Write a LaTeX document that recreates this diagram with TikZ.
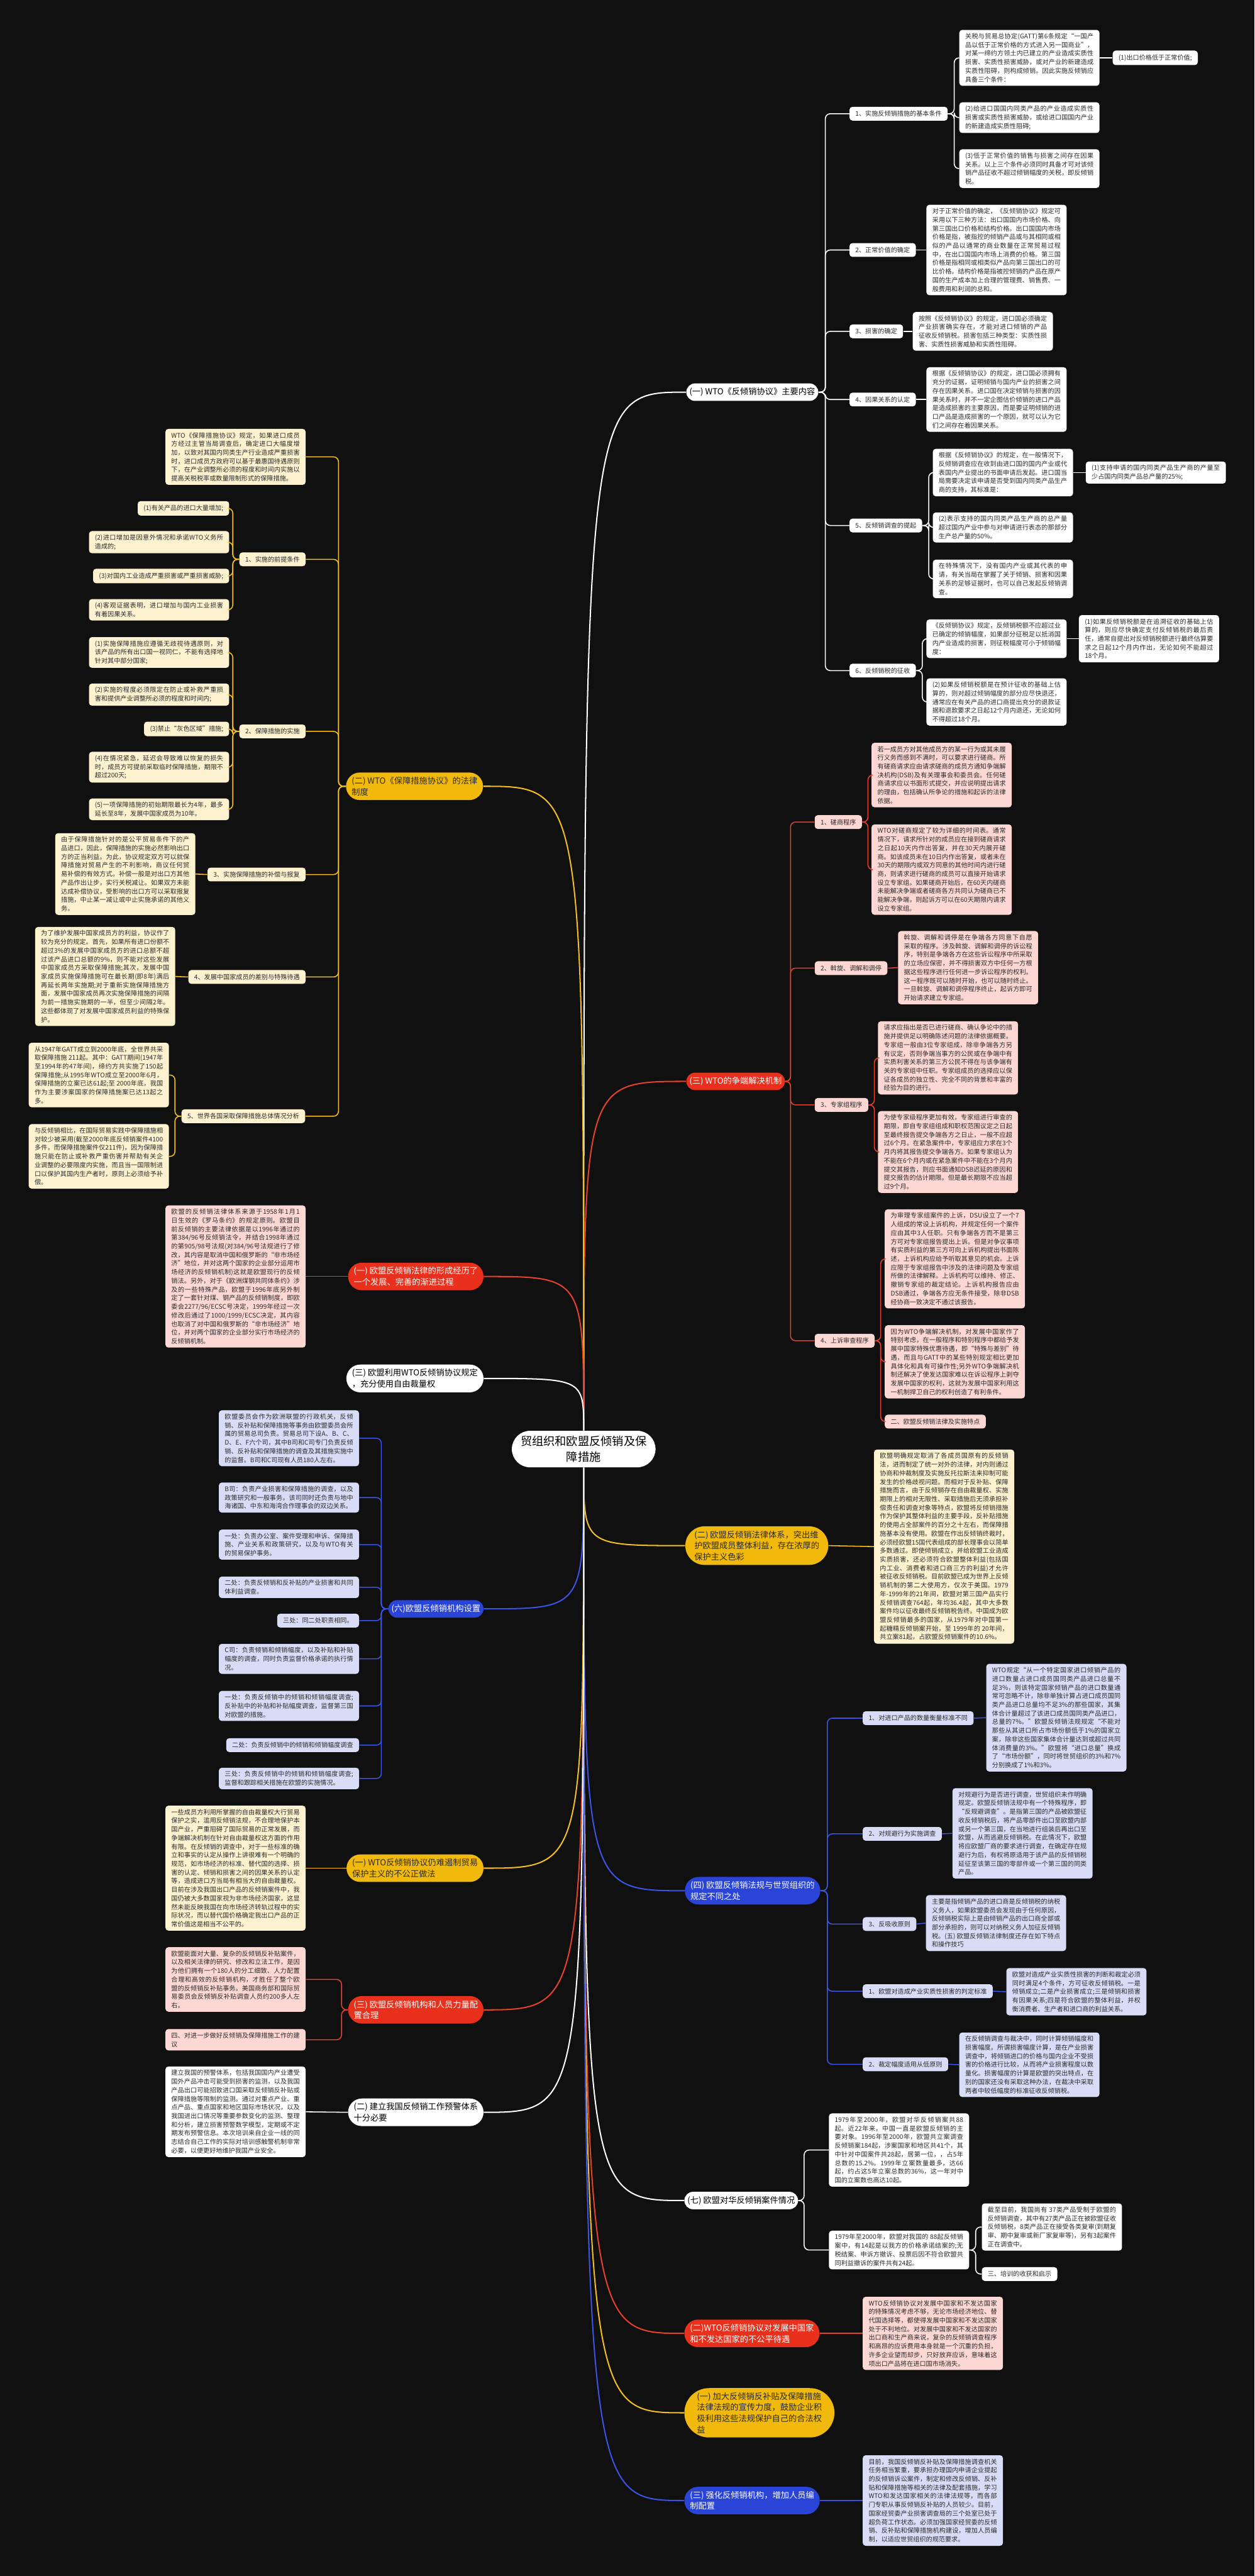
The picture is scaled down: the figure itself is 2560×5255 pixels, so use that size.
\documentclass[tikz,border=0pt]{standalone}
\usepackage{fontspec}
\newfontfamily\zhfont{Noto Sans CJK SC}
\XeTeXlinebreaklocale "zh"
\XeTeXlinebreakskip=0pt plus 0.5pt
\usetikzlibrary{shapes.misc}

\definecolor{bgc}{HTML}{101010}
\definecolor{txt}{HTML}{2B2B2B}
\definecolor{ylw}{HTML}{F2BE22}
\definecolor{ynode}{HTML}{F0B90B}
\definecolor{ybox}{HTML}{FDF2CF}
\definecolor{red}{HTML}{E5412D}
\definecolor{rnode}{HTML}{E8301C}
\definecolor{rbox}{HTML}{FCD7D3}
\definecolor{blu}{HTML}{3A55E6}
\definecolor{bnode}{HTML}{2A44D8}
\definecolor{bbox}{HTML}{D9DCF7}

\newcommand\boxfont{\zhfont\fontsize{6.5}{8.8}\selectfont}
\newcommand\topicfont{\zhfont\fontsize{8.5}{11.25}\selectfont}
\newcommand\rootfont{\zhfont\fontsize{11.7}{16.5}\selectfont}

\tikzset{
  root/.style={rounded rectangle, fill=white, text=black, font=\rootfont, align=center, inner xsep=3pt, inner ysep=5pt},
  topic/.style={rounded rectangle, font=\topicfont, align=left, inner xsep=2pt, inner ysep=4.5pt},
  wtopic/.style={topic, fill=white, text=black},
  ytopic/.style={topic, fill=ynode, text=txt},
  rtopic/.style={topic, fill=rnode, text=white},
  btopic/.style={topic, fill=bnode, text=white},
  box/.style={rounded corners=3pt, font=\boxfont, text=txt, inner xsep=6pt, inner ysep=4pt},
  para/.style={box, text width=131pt, align=justify, inner ysep=3.5pt},
  wl/.style={box, fill=white}, yl/.style={box, fill=ybox},
  rl/.style={box, fill=rbox}, bl/.style={box, fill=bbox},
  wp/.style={para, fill=white}, yp/.style={para, fill=ybox},
  rp/.style={para, fill=rbox}, bp/.style={para, fill=bbox},
  curve/.style={line width=1.3pt},
  conn/.style={line width=1pt, rounded corners=5pt}
}

\begin{document}
\begin{tikzpicture}[x=0.5pt,y=-0.5pt]
\fill[bgc] (0,0) rectangle (2560,5255);
\useasboundingbox (0,0) rectangle (2560,5255);

% centre
\node[root] (ctr) at (1191,2956) {贸组织和欧盟反倾销及保\\障措施};

% right topics
\node[wtopic, anchor=west] (B1) at (1400,800) {(一) WTO《反倾销协议》主要内容};
\node[rtopic, anchor=west] (B3) at (1400,2206) {(三) WTO的争端解决机制};
\node[ytopic, anchor=west] (B2e) at (1398,3153) {(二) 欧盟反倾销法律体系，突出维\\护欧盟成员整体利益，存在浓厚的\\保护主义色彩};
\node[btopic, anchor=west] (B4) at (1397,3857) {(四) 欧盟反倾销法规与世贸组织的\\规定不同之处};
\node[wtopic, anchor=west] (B7) at (1396,4489) {(七) 欧盟对华反倾销案件情况};
\node[rtopic, anchor=west] (B2w) at (1396,4760) {(二)WTO反倾销协议对发展中国家\\和不发达国家的不公平待遇};
\node[ytopic, anchor=west] (B1j) at (1396,4922) {(一) 加大反倾销反补贴及保障措施\\法律法规的宣传力度，鼓励企业积\\极利用这些法规保护自己的合法权\\益};
\node[btopic, anchor=west] (B3q) at (1396,5101) {(三) 强化反倾销机构，增加人员编\\制配置};

% left topics
\node[ytopic, anchor=east] (L2) at (986,1604) {(二) WTO《保障措施协议》的法律\\制度};
\node[rtopic, anchor=east] (L1) at (987,2604) {(一) 欧盟反倾销法律的形成经历了\\一个发展、完善的渐进过程};
\node[wtopic, anchor=east] (L3) at (987,2812) {(三) 欧盟利用WTO反倾销协议规定\\，充分使用自由裁量权};
\node[btopic, anchor=east] (L6) at (987,3282) {(六)欧盟反倾销机构设置};
\node[ytopic, anchor=east] (L1w) at (987,3811) {(一) WTO反倾销协议仍难遏制贸易\\保护主义的不公正做法};
\node[rtopic, anchor=east] (L3o) at (987,4100) {(三) 欧盟反倾销机构和人员力量配\\置合理};
\node[wtopic, anchor=east] (L2j) at (987,4309) {(二) 建立我国反倾销工作预警体系\\十分必要};

% (一) WTO反倾销协议
\node[wl, anchor=west] (a1) at (1733,232) {1、实施反倾销措施的基本条件};
\node[wp, anchor=west] (a1p1) at (1957,118) {关税与贸易总协定(GATT)第6条规定“一国产品以低于正常价格的方式进入另一国商业”，对某一缔约方领土内已建立的产业造成实质性损害、实质性损害威胁，或对产业的新建造成实质性阻碍，则构成倾销。因此实施反倾销应具备三个条件：};
\node[wl, anchor=west] (a1p1c) at (2270,118) {(1)出口价格低于正常价值;};
\node[wp, anchor=west] (a1p2) at (1957,240) {(2)给进口国国内同类产品的产业造成实质性损害或实质性损害威胁，或给进口国国内产业的新建造成实质性阻碍;};
\node[wp, anchor=west] (a1p3) at (1957,344) {(3)低于正常价值的销售与损害之间存在因果关系。以上三个条件必须同时具备才可对该倾销产品征收不超过倾销幅度的关税，即反倾销税。};
\node[wl, anchor=west] (a2) at (1733,510) {2、正常价值的确定};
\node[wp, anchor=west] (a2p) at (1890,510) {对于正常价值的确定，《反倾销协议》规定可采用以下三种方法：出口国国内市场价格、向第三国出口价格和结构价格。出口国国内市场价格是指，被指控的倾销产品或与其相同或相似的产品以通常的商业数量在正常贸易过程中，在出口国国内市场上消费的价格。第三国价格是指相同或相类似产品向第三国出口的可比价格。结构价格是指被控倾销的产品在原产国的生产成本加上合理的管理费、销售费、一般费用和利润的总和。};
\node[wl, anchor=west] (a3) at (1733,676) {3、损害的确定};
\node[wp, anchor=west] (a3p) at (1862,676) {按照《反倾销协议》的规定，进口国必须确定产业损害确实存在，才能对进口倾销的产品征收反倾销税。损害包括三种类型：实质性损害、实质性损害威胁和实质性阻碍。};
\node[wl, anchor=west] (a4) at (1733,815) {4、因果关系的认定};
\node[wp, anchor=west] (a4p) at (1890,815) {根据《反倾销协议》的规定，进口国必须拥有充分的证据，证明倾销与国内产业的损害之间存在因果关系。进口国在决定倾销与损害的因果关系时，并不一定企图估价倾销的进口产品是造成损害的主要原因，而是要证明倾销的进口产品是造成损害的一个原因，就可以认为它们之间存在着因果关系。};
\node[wl, anchor=west] (a5) at (1733,1072) {5、反倾销调查的提起};
\node[wp, anchor=west] (a5p1) at (1903,964) {根据《反倾销协议》的规定，在一般情况下，反倾销调查应在收到由进口国的国内产业或代表国内产业提出的书面申请后发起。进口国当局需要决定该申请是否受到国内同类产品生产商的支持，其标准是：};
\node[wp, anchor=west] (a5p1c) at (2215,964) {(1)支持申请的国内同类产品生产商的产量至少占国内同类产品总产量的25\%;};
\node[wp, anchor=west] (a5p2) at (1903,1076) {(2)表示支持的国内同类产品生产商的总产量超过国内产业中参与对申请进行表态的那部分生产总产量的50\%。};
\node[wp, anchor=west] (a5p3) at (1903,1181) {在特殊情况下，没有国内产业或其代表的申请，有关当局在掌握了关于倾销、损害和因果关系的足够证据时，也可以自己发起反倾销调查。};
\node[wl, anchor=west] (a6) at (1733,1368) {6、反倾销税的征收};
\node[wp, anchor=west] (a6p1) at (1890,1303) {《反倾销协议》规定，反倾销税额不应超过业已确定的倾销幅度，如果部分征税足以抵消国内产业造成的损害，则征税幅度可小于倾销幅度：};
\node[wp, anchor=west] (a6p1c) at (2201,1303) {(1)如果反倾销税额是在追溯征收的基础上估算的，则应尽快确定支付反倾销税的最后责任，通常自提出对反倾销税额进行最终估算要求之日起12个月内作出，无论如何不能超过18个月。};
\node[wp, anchor=west] (a6p2) at (1890,1432) {(2)如果反倾销税额是在预计征收的基础上估算的，则对超过倾销幅度的部分应尽快退还，通常应在有关产品的进口商提出充分的退款证据和退款要求之日起12个月内退还，无论如何不得超过18个月。};

% (三) 争端解决机制
\node[rl, anchor=west] (d1) at (1662,1677) {1、磋商程序};
\node[rp, anchor=west] (d1p1) at (1778,1581) {若一成员方对其他成员方的某一行为或其未履行义务而感到不满时，可以要求进行磋商。所有磋商请求应由请求磋商的成员方通知争端解决机构(DSB)及有关理事会和委员会。任何磋商请求应以书面形式提交，并应说明提出请求的理由，包括确认所争论的措施和起诉的法律依据。};
\node[rp, anchor=west] (d1p2) at (1778,1774) {WTO对磋商规定了较为详细的时间表。通常情况下，请求所针对的成员应在接到磋商请求之日起10天内作出答复，并在30天内展开磋商。如该成员未在10日内作出答复，或者未在30天的期限内或双方同意的其他时间内进行磋商，则请求进行磋商的成员可以直接开始请求设立专家组。如果磋商开始后，在60天内磋商未能解决争端或者磋商各方共同认为磋商已不能解决争端，则起诉方可以在60天期限内请求设立专家组。};
\node[rl, anchor=west] (d2) at (1662,1975) {2、斡旋、调解和调停};
\node[rp, anchor=west] (d2p) at (1832,1974) {斡旋、调解和调停是在争端各方同意下自愿采取的程序。涉及斡旋、调解和调停的诉讼程序，特别是争端各方在这些诉讼程序中所采取的立场应保密，并不得损害双方中任何一方根据这些程序进行任何进一步诉讼程序的权利。这一程序既可以随时开始，也可以随时终止。一旦斡旋、调解和调停程序终止，起诉方即可开始请求建立专家组。};
\node[rl, anchor=west] (d3) at (1662,2254) {3、专家组程序};
\node[rp, anchor=west] (d3p1) at (1791,2158) {请求应指出是否已进行磋商、确认争论中的措施并提供足以明确陈述问题的法律依据概要。专家组一般由3位专家组成，除非争端各方另有议定，否则争端当事方的公民或在争端中有实质利害关系的第三方公民不得在与该争端有关的专家组中任职。专家组成员的选择应以保证各成员的独立性、完全不同的背景和丰富的经验为目的进行。};
\node[rp, anchor=west] (d3p2) at (1791,2350) {为使专家级程序更加有效，专家组进行审查的期限，即自专家组组成和职权范围议定之日起至最终报告提交争端各方之日止，一般不应超过6个月。在紧急案件中，专家组应力求在3个月内将其报告提交争端各方。如果专家组认为不能在6个月内或在紧急案件中不能在3个月内提交其报告，则应书面通知DSB迟延的原因和提交报告的估计期限。但是最长期限不应当超过9个月。};
\node[rl, anchor=west] (d4) at (1662,2735) {4、上诉审查程序};
\node[rp, anchor=west] (d4p1) at (1805,2568) {为审理专家组案件的上诉，DSU设立了一个7人组成的常设上诉机构，并规定任何一个案件应由其中3人任职。只有争端各方而不是第三方可对专家组报告提出上诉。但是对争议事项有实质利益的第三方可向上诉机构提出书面陈述，上诉机构应给予听取其意见的机会。上诉应限于专家组报告中涉及的法律问题及专家组所做的法律解释。上诉机构可以维持、修正、撤销专家组的裁定结论。上诉机构报告应由DSB通过，争端各方应无条件接受，除非DSB经协商一致决定不通过该报告。};
\node[rp, anchor=west] (d4p2) at (1805,2778) {因为WTO争端解决机制，对发展中国家作了特别考虑，在一般程序和特别程序中都给予发展中国家特殊优惠待遇，即“特殊与差别”待遇，而且与GATT中的某些特别规定相比更加具体化和具有可操作性;另外WTO争端解决机制还解决了使发达国家难以在诉讼程序上剥夺发展中国家的权利，这就为发展中国家利用这一机制捍卫自己的权利创造了有利条件。};
\node[rl, anchor=west] (d4p3) at (1805,2900) {二、欧盟反倾销法律及实施特点};

% (二) 欧盟反倾销法律体系
\node[yp, anchor=west] (e1p) at (1783,3155) {欧盟明确规定取消了各成员国原有的反倾销法，进而制定了统一对外的法律，对内则通过协商和仲裁制度及实施反托拉斯法来抑制可能发生的价格歧视问题。而相对于反补贴、保障措施而言，由于反倾销存在自由裁量权、实施期限上的相对无限性、采取措施后无须承担补偿责任和调查对象等特点，欧盟将反倾销措施作为保护其整体利益的主要手段，反补贴措施的使用占全部案件的百分之十左右，而保障措施基本没有使用。欧盟在作出反倾销终裁时，必须经欧盟15国代表组成的部长理事会以简单多数通过。即使倾销成立，并给欧盟工业造成实质损害，还必须符合欧盟整体利益(包括国内工业、消费者和进口商三方的利益)才允许被征收反倾销税。目前欧盟已成为世界上反倾销机制的第二大使用方，仅次于美国。1979年-1999年的21年间，欧盟对第三国产品实行反倾销调查764起，年均36.4起，其中大多数案件均以征收最终反倾销税告终。中国成为欧盟反倾销最多的国家，从1979年对中国第一起糖精反倾销案开始，至 1999年的 20年间，共立案81起，占欧盟反倾销案件的10.6\%。};

% (四) 不同之处
\node[bl, anchor=west] (f1) at (1760,3505) {1、对进口产品的数量衡量标准不同};
\node[bp, anchor=west] (f1p) at (2012,3504) {WTO规定“从一个特定国家进口倾销产品的进口数量占进口成员国同类产品进口总量不足3\%，则该特定国家倾销产品的进口数量通常可忽略不计，除非单独计算占进口成员国同类产品进口总量均不足3\%的那些国家，其集体合计量超过了该进口成员国同类产品进口，总量的7\%。”欧盟反倾销法规规定“不能对那些从其进口所占市场份额低于1\%的国家立案，除非这些国家集体合计量达到或超过共同体消费量的3\%。”欧盟将“进口总量”换成了“市场份额”，同时将世贸组织的3\%和7\%分别换成了1\%和3\%。};
\node[bl, anchor=west] (f2) at (1760,3741) {2、对规避行为实施调查};
\node[bp, anchor=west] (f2p) at (1943,3740) {对规避行为是否进行调查，世贸组织未作明确规定。欧盟反倾销法规中有一个特殊程序，即“反规避调查”。是指第三国的产品被欧盟征收反倾销税后，将产品零部件出口至欧盟内部或另一个第三国，在当地进行组装后再出口至欧盟，从而逃避反倾销税。在此情况下，欧盟将应欧盟厂商的要求进行调查，在确定存在规避行为后，有权将原适用于该产品的反倾销税延征至该第三国的零部件或一个第三国的同类产品。};
\node[bl, anchor=west] (f3) at (1760,3925) {3、反吸收原则};
\node[bp, anchor=west] (f3p) at (1889,3923) {主要是指倾销产品的进口商是反倾销税的纳税义务人，如果欧盟委员会发现由于任何原因，反倾销税实际上是由倾销产品的出口商全部或部分承担的，则可以对纳税义务人加征反倾销税。(五) 欧盟反倾销法律制度还存在如下特点和操作技巧};
\node[bl, anchor=west] (f4) at (1760,4062) {1、欧盟对造成产业实质性损害的判定标准};
\node[bp, anchor=west] (f4p) at (2053,4063) {欧盟对造成产业实质性损害的判断和裁定必须同时满足4个条件，方可征收反倾销税。一是倾销成立;二是产业损害成立;三是倾销和损害有因果关系;四是符合欧盟的整体利益，并权衡消费者、生产者和进口商的利益关系。};
\node[bl, anchor=west] (f5) at (1760,4211) {2、裁定幅度适用从低原则};
\node[bp, anchor=west] (f5p) at (1957,4212) {在反倾销调查与裁决中，同时计算倾销幅度和损害幅度。所谓损害幅度计算，是在产业损害调查中，将倾销进口的价格与国内企业不受损害的价格进行比较，从而将产业损害程度以数量化。损害幅度的计算是欧盟的突出特点，在别的国家还没有采取这种办法，在裁决中采取两者中较低幅度的标准征收反倾销税。};

% (七) 对华案件
\node[wp, anchor=west] (g1p) at (1691,4386) {1979年至2000年，欧盟对华反倾销案共88起。近22年来，中国一直是欧盟反倾销的主要对象。1996年至2000年，欧盟共立案调查反倾销案184起，涉案国家和地区共41个，其中针对中国案件共28起，居第一位，，占5年总数的15.2\%。1999年立案数量最多，达66起，约占这5年立案总数的36\%，这一年对中国的立案数也高达10起。};
\node[wp, anchor=west] (g2p) at (1691,4590) {1979年至2000年，欧盟对我国的 88起反倾销案中，有14起是以我方的价格承诺结案的;无税结案、申诉方撤诉、投票后因不符合欧盟共同利益撤诉的案件共有24起。};
\node[wp, anchor=west] (g2p1) at (2003,4543) {截至目前，我国尚有 37类产品受制于欧盟的反倾销调查，其中有27类产品正在被欧盟征收反倾销税，8类产品正在接受各类复审(到期复审、期中复审或新厂家复审等)，另有3起案件正在调查中。};
\node[wl, anchor=west] (g2p2) at (2003,4639) {三、培训的收获和启示};

\node[rp, anchor=west] (h1p) at (1760,4760) {WTO反倾销协议对发展中国家和不发达国家的特殊情况考虑不够，无论市场经济地位、替代国选择等，都使得发展中国家和不发达国家处于不利地位。对发展中国家和不发达国家的出口商和生产商来说，复杂的反倾销调查程序和高昂的应诉费用本身就是一个沉重的负担，许多企业望而却步，只好放弃应诉，意味着这项出口产品将在进口国市场消失。};
\node[bp, anchor=west] (k1p) at (1760,5101) {目前，我国反倾销反补贴及保障措施调查机关任务相当繁重，要承担办理国内申请企业提起的反倾销诉讼案件，制定和修改反倾销、反补贴和保障措施等相关的法律及配套措施，学习WTO和发达国家相关的法律法规等，而各部门专职从事反倾销反补贴的人员较少。目前，国家经贸委产业损害调查局的三个处室已处于超负荷工作状态。必须加强国家经贸委的反倾销、反补贴和保障措施机构建设，增加人员编制，以适应世贸组织的规范要求。};

% (二) 保障措施协议
\node[yp, anchor=east] (m0) at (624,932) {WTO《保障措施协议》规定，如果进口成员方经过主管当局调查后，确定进口大幅度增加，以致对其国内同类生产行业造成严重损害时，进口成员方政府可以基于最惠国待遇原则下，在产业调整所必须的程度和时间内实施以提高关税税率或数量限制形式的保障措施。};
\node[yl, anchor=east] (m1) at (624,1141) {1、实施的前提条件};
\node[yl, anchor=east] (m1a) at (468,1037) {(1)有关产品的进口大量增加;};
\node[yp, anchor=east] (m1b) at (468,1106) {(2)进口增加是因意外情况和承诺WTO义务所造成的;};
\node[yl, anchor=east] (m1c) at (468,1175) {(3)对国内工业造成严重损害或严重损害威胁;};
\node[yp, anchor=east] (m1d) at (468,1244) {(4)客观证据表明，进口增加与国内工业损害有着因果关系。};
\node[yl, anchor=east] (m2) at (624,1492) {2、保障措施的实施};
\node[yp, anchor=east] (m2a) at (468,1331) {(1)实施保障措施应遵循无歧视待遇原则，对该产品的所有出口国一视同仁，不能有选择地针对其中部分国家;};
\node[yp, anchor=east] (m2b) at (468,1417) {(2)实施的程度必须限定在防止或补救严重损害和提供产业调整所必须的程度和时间内;};
\node[yl, anchor=east] (m2c) at (468,1487) {(3)禁止“灰色区域”措施;};
\node[yp, anchor=east] (m2d) at (468,1565) {(4)在情况紧急，延迟会导致难以恢复的损失时，成员方可提前采取临时保障措施，期限不超过200天;};
\node[yp, anchor=east] (m2e) at (468,1651) {(5)一项保障措施的初始期限最长为4年，最多延长至8年，发展中国家成员为10年。};
\node[yl, anchor=east] (m3) at (624,1784) {3、实施保障措施的补偿与报复};
\node[yp, anchor=east] (m3p) at (399,1783) {由于保障措施针对的是公平贸易条件下的产品进口，因此，保障措施的实施必然影响出口方的正当利益。为此，协议规定双方可以就保障措施对贸易产生的不利影响，商议任何贸易补偿的有效方式。补偿一般是对出口方其他产品作出让步，实行关税减让。如果双方未能达成补偿协议，受影响的出口方可以采取报复措施，中止某一减让或中止实施承诺的其他义务。};
\node[yl, anchor=east] (m4) at (624,1993) {4、发展中国家成员的差别与特殊待遇};
\node[yp, anchor=east] (m4p) at (358,1992) {为了维护发展中国家成员方的利益，协议作了较为充分的规定。首先，如果所有进口份额不超过3\%的发展中国家成员方的进口总额不超过该产品进口总额的9\%，则不能对这些发展中国家成员方采取保障措施;其次，发展中国家成员实施保障措施可在最长期(即8年)满后再延长两年实施期;对于重新实施保障措施方面，发展中国家成员再次实施保障措施的间隔为前一措施实施期的一半，但至少间隔2年。这些都体现了对发展中国家成员利益的特殊保护。};
\node[yl, anchor=east] (m5) at (623,2277) {5、世界各国采取保障措施总体情况分析};
\node[yp, anchor=east] (m5a) at (345,2193) {从1947年GATT成立到2000年底，全世界共采取保障措施 211起。其中：GATT期间(1947年至1994年的47年间)，缔约方共实施了150起保障措施;从1995年WTO成立至2000年6月，保障措施的立案已达61起;至 2000年底，我国作为主要涉案国家的保障措施案已达13起之多。};
\node[yp, anchor=east] (m5b) at (345,2359) {与反倾销相比，在国际贸易实践中保障措施相对较少被采用(截至2000年底反倾销案件4100多件，而保障措施案件仅211件)，因为保障措施只能在防止或补救严重伤害并帮助有关企业调整的必要限度内实施，而且当一国限制进口以保护其国内生产者时，原则上必须给予补偿。};

% (一) 欧盟法律的形成
\node[rp, anchor=east] (n1p) at (624,2604) {欧盟的反倾销法律体系来源于1958年1月1日生效的《罗马条约》的规定原则。欧盟目前反倾销的主要法律依据是以1996年通过的第384/96号反倾销法令，并结合1998年通过的第905/98号法规(对384/96号法规进行了修改，其内容是取消中国和俄罗斯的“非市场经济”地位，并对这两个国家的企业部分运用市场经济的反倾销机制)这就是欧盟现行的反倾销法。另外，对于《欧洲煤钢共同体条约》涉及的一些特殊产品，欧盟于1996年底另外制定了一套针对煤、钢产品的反倾销制度，即欧委会2277/96/ECSC号决定，1999年经过一次修改后通过了1000/1999/ECSC决定，其内容也取消了对中国和俄罗斯的“非市场经济”地位，并对两个国家的企业部分实行市场经济的反倾销机制。};

% (六) 机构设置
\node[bp, anchor=east] (p1) at (733,2934) {欧盟委员会作为欧洲联盟的行政机关，反倾销、反补贴和保障措施等事务由欧盟委员会所属的贸易总司负责。贸易总司下设A、B、C、D、E、F六个司，其中B司和C司专门负责反倾销、反补贴和保障措施的调查及其措施实施中的监督。B司和C司现有人员180人左右。};
\node[bp, anchor=east] (p2) at (733,3055) {B司：负责产业损害和保障措施的调查，以及政策研究和一般事务。该司同时还负责与地中海诸国、中东和海湾合作理事会的双边关系。};
\node[bp, anchor=east] (p3) at (733,3151) {一处：负责办公室、案件受理和申诉、保障措施、产业关系和政策研究，以及与WTO有关的贸易保护事务。};
\node[bp, anchor=east] (p4) at (733,3238) {二处：负责反倾销和反补贴的产业损害和共同体利益调查。};
\node[bl, anchor=east] (p5) at (733,3306) {三处：同二处职责相同。};
\node[bp, anchor=east] (p6) at (733,3384) {C司：负责倾销和倾销幅度，以及补贴和补贴幅度的调查，同时负责监督价格承诺的执行情况。};
\node[bp, anchor=east] (p7) at (733,3480) {一处：负责反倾销中的倾销和倾销幅度调查;反补贴中的补贴和补贴幅度调查，监督第三国对欧盟的措施。};
\node[bl, anchor=east] (p8) at (733,3560) {二处：负责反倾销中的倾销和倾销幅度调查};
\node[bp, anchor=east] (p9) at (733,3628) {三处：负责反倾销中的倾销和倾销幅度调查;监督和跟踪相关措施在欧盟的实施情况。};

\node[yp, anchor=east] (q1p) at (624,3811) {一些成员方利用所掌握的自由裁量权大行贸易保护之实，滥用反倾销法规，不合理地保护本国产业，严重阻碍了国际贸易的正常发展，而争端解决机制在针对自由裁量权这方面的作用有限。在反倾销的调查中，对于一些标准的确立和事实的认定从操作上讲很难有一个明确的规范，如市场经济的标准、替代国的选择、损害的认定、倾销和损害之间的因果关系的认定等，造成进口方当局有相当大的自由裁量权。目前在涉及我国出口产品的反倾销案件中，我国仍被大多数国家视为非市场经济国家，这显然未能反映我国在向市场经济转轨过程中的实际状况，而以替代国价格确定我出口产品的正常价值这是相当不公平的。};
\node[rp, anchor=east] (r1) at (624,4038) {欧盟能面对大量、复杂的反倾销反补贴案件，以及相关法律的研究、修改和立法工作，是因为他们拥有一个180人的分工细致、人力配置合理和高效的反倾销机构，才胜任了整个欧盟的反倾销反补贴事务。美国商务部和国际贸易委员会反倾销反补贴调查人员约200多人左右。};
\node[rp, anchor=east] (r2) at (624,4161) {四、对进一步做好反倾销及保障措施工作的建议};
\node[wp, anchor=east] (s1) at (624,4308) {建立我国的预警体系，包括我国国内产业遭受国外产品冲击可能受到损害的监测，以及我国产品出口可能招致进口国采取反倾销反补贴或保障措施等限制的监测。通过对重点产业、重点产品、重点国家和地区国际市场状况，以及我国进出口情况等重要参数变化的监测、整理和分析，建立损害预警数学模型，定期或不定期发布预警信息。本次培训来自企业一线的同志结合自己工作的实际对培训感触警机制非常必要，以便更好地维护我国产业安全。};

% centre to topics
\draw[curve, white] (ctr.north) .. controls (ctr.north |- B1.west) .. (B1.west);
\draw[curve, red] (ctr.north) .. controls (ctr.north |- B3.west) .. (B3.west);
\draw[curve, ylw] (ctr.south) .. controls (ctr.south |- B2e.west) .. (B2e.west);
\draw[curve, blu] (ctr.south) .. controls (ctr.south |- B4.west) .. (B4.west);
\draw[curve, white] (ctr.south) .. controls (ctr.south |- B7.west) .. (B7.west);
\draw[curve, red] (ctr.south) .. controls (ctr.south |- B2w.west) .. (B2w.west);
\draw[curve, ylw] (ctr.south) .. controls (ctr.south |- B1j.west) .. (B1j.west);
\draw[curve, blu] (ctr.south) .. controls (ctr.south |- B3q.west) .. (B3q.west);
\draw[curve, ylw] (ctr.north) .. controls (ctr.north |- L2.east) .. (L2.east);
\draw[curve, red] (ctr.north) .. controls (ctr.north |- L1.east) .. (L1.east);
\draw[curve, white] (ctr.north) .. controls (ctr.north |- L3.east) .. (L3.east);
\draw[curve, blu] (ctr.south) .. controls (ctr.south |- L6.east) .. (L6.east);
\draw[curve, ylw] (ctr.south) .. controls (ctr.south |- L1w.east) .. (L1w.east);
\draw[curve, red] (ctr.south) .. controls (ctr.south |- L3o.east) .. (L3o.east);
\draw[curve, white] (ctr.south) .. controls (ctr.south |- L2j.east) .. (L2j.east);

% right branches
\foreach \n in {a1,a2,a3,a4,a5,a6} \draw[conn, white] (B1.east) -- ++(14,0) |- (\n.west);
\foreach \n in {a1p1,a1p2,a1p3} \draw[conn, white] (a1.east) -- ++(13,0) |- (\n.west);
\foreach \n in {a5p1,a5p2,a5p3} \draw[conn, white] (a5.east) -- ++(13,0) |- (\n.west);
\foreach \n in {a6p1,a6p2} \draw[conn, white] (a6.east) -- ++(13,0) |- (\n.west);
\draw[conn, white] (a2.east) -- (a2p.west);
\draw[conn, white] (a3.east) -- (a3p.west);
\draw[conn, white] (a4.east) -- (a4p.west);
\draw[conn, white] (a1p1.east) -- (a1p1c.west);
\draw[conn, white] (a5p1.east) -- (a5p1c.west);
\draw[conn, white] (a6p1.east) -- (a6p1c.west);

\foreach \n in {d1,d2,d3,d4} \draw[conn, red] (B3.east) -- ++(11,0) |- (\n.west);
\foreach \n in {d1p1,d1p2} \draw[conn, red] (d1.east) -- ++(12,0) |- (\n.west);
\foreach \n in {d3p1,d3p2} \draw[conn, red] (d3.east) -- ++(12,0) |- (\n.west);
\foreach \n in {d4p1,d4p2,d4p3} \draw[conn, red] (d4.east) -- ++(12,0) |- (\n.west);
\draw[conn, red] (d2.east) -- (d2p.west);

\draw[conn, ylw] (B2e.east) -- (e1p.west);

\foreach \n in {f1,f2,f3,f4,f5} \draw[conn, blu] (B4.east) -- ++(14,0) |- (\n.west);
\foreach \n in {f1,f2,f3,f4,f5} \draw[conn, blu] (\n.east) -- (\n p.west);

\foreach \n in {g1p,g2p} \draw[conn, white] (B7.east) -- ++(12,0) |- (\n.west);
\foreach \n in {g2p1,g2p2} \draw[conn, white] (g2p.east) -- ++(13,0) |- (\n.west);
\draw[conn, red] (B2w.east) -- (h1p.west);
\draw[conn, blu] (B3q.east) -- (k1p.west);

% left branches
\foreach \n in {m0,m1,m2,m3,m4,m5} \draw[conn, ylw] (L2.west) -- ++(-15,0) |- (\n.east);
\foreach \n in {m1a,m1b,m1c,m1d} \draw[conn, ylw] (m1.west) -- ++(-13,0) |- (\n.east);
\foreach \n in {m2a,m2b,m2c,m2d,m2e} \draw[conn, ylw] (m2.west) -- ++(-13,0) |- (\n.east);
\foreach \n in {m5a,m5b} \draw[conn, ylw] (m5.west) -- ++(-13,0) |- (\n.east);
\draw[conn, ylw] (m3.west) -- (m3p.east);
\draw[conn, ylw] (m4.west) -- (m4p.east);
\draw[conn, red] (L1.west) -- (n1p.east);
\foreach \n in {p1,p2,p3,p4,p5,p6,p7,p8,p9} \draw[conn, blu] (L6.west) -- ++(-14,0) |- (\n.east);
\draw[conn, ylw] (L1w.west) -- (q1p.east);
\foreach \n in {r1,r2} \draw[conn, red] (L3o.west) -- ++(-13,0) |- (\n.east);
\draw[conn, white] (L2j.west) -- (s1.east);
\end{tikzpicture}
\end{document}
